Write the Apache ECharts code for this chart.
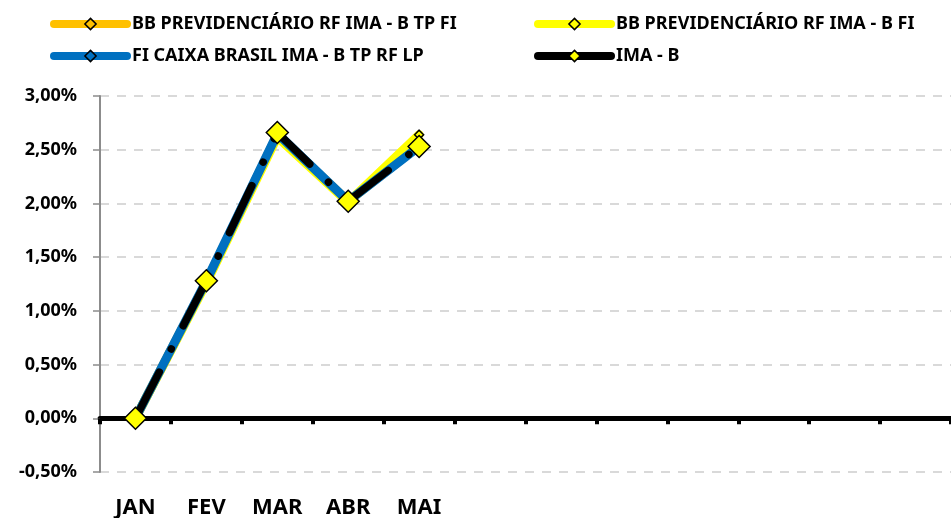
<!DOCTYPE html>
<html>
<head>
<meta charset="utf-8">
<script src="https://cdn.jsdelivr.net/npm/echarts@6/dist/echarts.min.js"></script>
<style>
  html, body { margin: 0; padding: 0; background: #fff; }
  #chart { width: 951px; height: 518px; }
</style>
</head>
<body>
<div id="chart"></div>
<script>
// 12 posições no eixo, só os 5 primeiros meses têm rótulo e dado
const months = ['JAN', 'FEV', 'MAR', 'ABR', 'MAI', '', '', '', '', '', '', ''];

// rentabilidade acumulada, em %
const bbTpFi = [0, 1.27, 2.64, 2.02, 2.54];
const bbFi = [0, 1.26, 2.62, 2.01, 2.64];
const caixaLp = [0, 1.28, 2.65, 2.02, 2.53];
const imaB = [0, 1.28, 2.66, 2.02, 2.53];

const names = [
    'BB PREVIDENCIÁRIO RF IMA - B TP FI',
    'BB PREVIDENCIÁRIO RF IMA - B FI',
    'FI CAIXA BRASIL IMA - B TP RF LP',
    'IMA - B'
];

const yTicks = { min: -0.5, max: 3, step: 0.5 };

const FONT = "'Noto Sans', 'Open Sans', sans-serif";

const myChart = echarts.init(document.getElementById('chart'));

function legendAt(name, left, top) {
    return {
        data: [name],
        left: left,
        top: top,
        itemWidth: 73,
        itemHeight: 14,
        symbolSize: 10,
        selectedMode: false,
        lineStyle: { width: 8, type: 'solid', cap: 'round' },
        itemStyle: { borderColor: '#000', borderWidth: 1.5 },
        textStyle: { fontFamily: FONT, fontWeight: 'bold', fontSize: 18, color: '#000' }
    };
}

function smallDiamondSeries(name, data, color) {
    return {
        name: name,
        type: 'line',
        data: data,
        symbol: 'diamond',
        symbolSize: 9,
        showAllSymbol: true,
        lineStyle: { color: color, width: 9, cap: 'round', join: 'round' },
        itemStyle: { color: color, borderColor: '#000', borderWidth: 1.5 }
    };
}

const option = {
    animation: false,
    backgroundColor: '#fff',
    legend: [
        legendAt(names[0], 45, 10),
        legendAt(names[1], 529, 10),
        legendAt(names[2], 45, 42),
        legendAt(names[3], 529, 42)
    ],
    grid: {
        left: 100,
        right: 0,
        top: 96,
        bottom: 46,
        outerBoundsMode: 'none'
    },
    xAxis: [
        {
            // só rótulos, embaixo
            type: 'category',
            data: months,
            position: 'bottom',
            axisLine: { show: false, onZero: false },
            axisTick: { show: false },
            axisLabel: {
                margin: 25,
                interval: 0,
                fontFamily: FONT,
                fontWeight: 'bold',
                fontSize: 22,
                color: '#000'
            }
        },
        {
            // linha preta no zero
            type: 'category',
            data: months,
            position: 'bottom',
            axisLine: { show: true, onZero: true, onZeroAxisIndex: 0, lineStyle: { color: '#000', width: 5 } },
            axisTick: { show: true, inside: false, length: 6, lineStyle: { color: '#000', width: 4 } },
            axisLabel: { show: false },
            splitLine: { show: false }
        }
    ],
    yAxis: {
        type: 'value',
        min: yTicks.min,
        max: yTicks.max,
        interval: yTicks.step,
        axisLine: { show: true, lineStyle: { color: '#8c8c8c', width: 2 } },
        axisTick: { show: true, length: 7, lineStyle: { color: '#8c8c8c', width: 1.5 } },
        axisLabel: {
            margin: 23,
            fontFamily: FONT,
            fontWeight: 'bold',
            fontSize: 18,
            color: '#000',
            formatter: v => v.toFixed(2).replace('.', ',') + '%'
        },
        splitLine: { show: true, lineStyle: { color: '#d9d9d9', width: 2, type: [9, 8] } }
    },
    series: [
        smallDiamondSeries(names[0], bbTpFi, '#FFC000'),
        smallDiamondSeries(names[1], bbFi, '#FFFF00'),
        smallDiamondSeries(names[2], caixaLp, '#0070C0'),
        {
            name: names[3],
            type: 'line',
            data: imaB,
            symbol: 'diamond',
            symbolSize: 22,
            lineStyle: { color: '#000', width: 7.5, type: [52, 26, 0.1, 26], cap: 'round' },
            itemStyle: { color: '#FFFF00', borderColor: '#000', borderWidth: 1.5 }
        }
    ]
};

myChart.setOption(option);
window.addEventListener('resize', myChart.resize);
</script>
</body>
</html>
